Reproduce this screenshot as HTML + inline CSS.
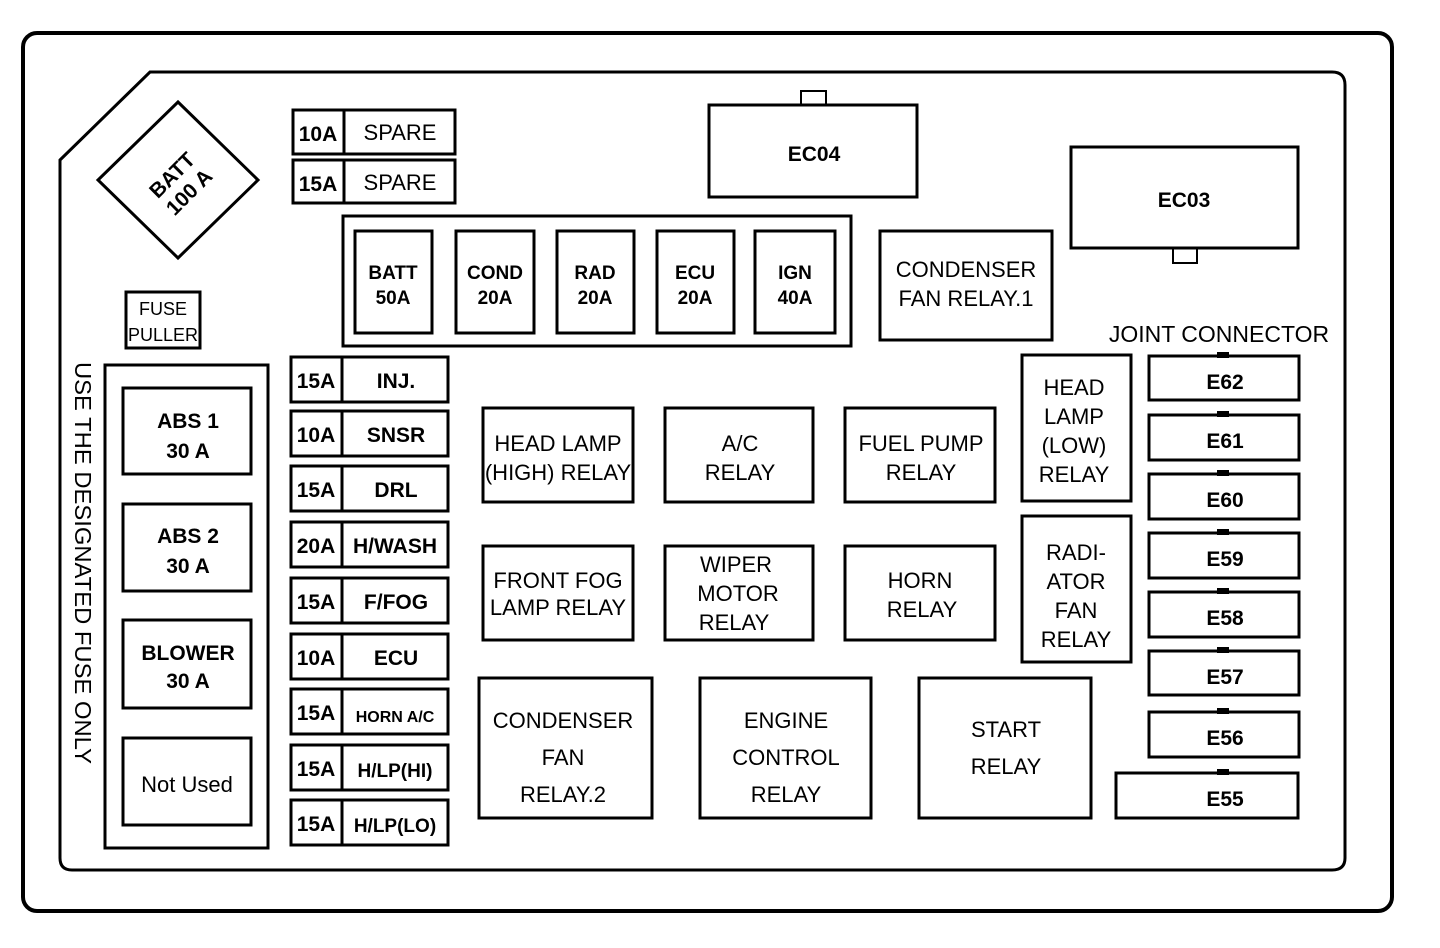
<!DOCTYPE html>
<html><head><meta charset="utf-8"><style>
html,body{margin:0;padding:0;background:#fff;}
svg{display:block;}
text{font-family:"Liberation Sans",sans-serif;fill:#000;}
.b{font-weight:bold;}
</style></head><body>
<svg width="1440" height="948" viewBox="0 0 1440 948" xmlns="http://www.w3.org/2000/svg">
<g fill="none" stroke="#000">
<rect x="23" y="33" width="1369" height="878" rx="14" stroke-width="4"/>
<path d="M60,160 L150,72 L1332,72 Q1345,72 1345,85 L1345,858 Q1345,870 1332,870 L72,870 Q60,870 60,858 Z" stroke-width="3"/>
<polygon points="178,102 258,180 178,258 98,180" stroke-width="3"/>
<rect x="126" y="292" width="74" height="56" stroke-width="3"/>
<rect x="105" y="365" width="163" height="483" stroke-width="3"/>
<rect x="123" y="388" width="128" height="86" stroke-width="3"/>
<rect x="123" y="504" width="128" height="87" stroke-width="3"/>
<rect x="123" y="620" width="128" height="88" stroke-width="3"/>
<rect x="123" y="738" width="128" height="87" stroke-width="3"/>
<rect x="293" y="110" width="162" height="44" stroke-width="3"/><line x1="344" y1="110" x2="344" y2="154" stroke-width="3"/>
<rect x="293" y="160" width="162" height="43" stroke-width="3"/><line x1="344" y1="160" x2="344" y2="203" stroke-width="3"/>
<rect x="343" y="216" width="508" height="130" stroke-width="3"/>
<rect x="355" y="231" width="77" height="102" stroke-width="3"/>
<rect x="456" y="231" width="78" height="102" stroke-width="3"/>
<rect x="557" y="231" width="77" height="102" stroke-width="3"/>
<rect x="657" y="231" width="77" height="102" stroke-width="3"/>
<rect x="755" y="231" width="80" height="102" stroke-width="3"/>
<rect x="709" y="105" width="208" height="92" stroke-width="3"/>
<rect x="801" y="91" width="25" height="14" stroke-width="2"/>
<rect x="1071" y="147" width="227" height="101" stroke-width="3"/>
<rect x="1173" y="248" width="24" height="15" stroke-width="2"/>
<rect x="880" y="231" width="172" height="109" stroke-width="3"/>
<g stroke-width="3">
<rect x="291" y="357" width="157" height="45"/><line x1="342" y1="357" x2="342" y2="402"/>
<rect x="291" y="411" width="157" height="45"/><line x1="342" y1="411" x2="342" y2="456"/>
<rect x="291" y="466" width="157" height="45"/><line x1="342" y1="466" x2="342" y2="511"/>
<rect x="291" y="522" width="157" height="45"/><line x1="342" y1="522" x2="342" y2="567"/>
<rect x="291" y="578" width="157" height="45"/><line x1="342" y1="578" x2="342" y2="623"/>
<rect x="291" y="634" width="157" height="45"/><line x1="342" y1="634" x2="342" y2="679"/>
<rect x="291" y="689" width="157" height="45"/><line x1="342" y1="689" x2="342" y2="734"/>
<rect x="291" y="745" width="157" height="45"/><line x1="342" y1="745" x2="342" y2="790"/>
<rect x="291" y="800" width="157" height="45"/><line x1="342" y1="800" x2="342" y2="845"/>
<rect x="483" y="408" width="150" height="94"/>
<rect x="665" y="408" width="148" height="94"/>
<rect x="845" y="408" width="150" height="94"/>
<rect x="483" y="546" width="150" height="94"/>
<rect x="665" y="546" width="148" height="94"/>
<rect x="845" y="546" width="150" height="94"/>
<rect x="1022" y="355" width="109" height="146"/>
<rect x="1022" y="516" width="109" height="146"/>
<rect x="479" y="678" width="173" height="140"/>
<rect x="700" y="678" width="171" height="140"/>
<rect x="919" y="678" width="172" height="140"/>
<rect x="1149" y="356" width="150" height="44"/>
<rect x="1149" y="415" width="150" height="45"/>
<rect x="1149" y="474" width="150" height="45"/>
<rect x="1149" y="533" width="150" height="45"/>
<rect x="1149" y="592" width="150" height="45"/>
<rect x="1149" y="651" width="150" height="44"/>
<rect x="1149" y="712" width="150" height="45"/>
<rect x="1116" y="773" width="182" height="45"/>
</g>
</g>
<g fill="#000">
<rect x="1217" y="352" width="12" height="6"/><rect x="1217" y="411" width="12" height="6"/><rect x="1217" y="470" width="12" height="6"/><rect x="1217" y="529" width="12" height="6"/><rect x="1217" y="588" width="12" height="6"/><rect x="1217" y="647" width="12" height="6"/><rect x="1217" y="708" width="12" height="6"/><rect x="1217" y="769" width="12" height="6"/>
</g>
<g class="b" font-size="21" text-anchor="middle">
<text transform="translate(180,183) rotate(-45)"><tspan x="0" y="-4">BATT</tspan><tspan x="0" y="20">100 A</tspan></text>
<text x="188" y="428">ABS 1</text><text x="188" y="458">30 A</text>
<text x="188" y="543">ABS 2</text><text x="188" y="573">30 A</text>
<text x="188" y="660">BLOWER</text><text x="188" y="688">30 A</text>
<text x="318" y="141">10A</text><text x="318" y="191">15A</text>
<text x="393" y="279" font-size="19">BATT</text><text x="393" y="304" font-size="19">50A</text>
<text x="495" y="279" font-size="19">COND</text><text x="495" y="304" font-size="19">20A</text>
<text x="595" y="279" font-size="19">RAD</text><text x="595" y="304" font-size="19">20A</text>
<text x="695" y="279" font-size="19">ECU</text><text x="695" y="304" font-size="19">20A</text>
<text x="795" y="279" font-size="19">IGN</text><text x="795" y="304" font-size="19">40A</text>
<text x="814" y="161">EC04</text><text x="1184" y="207">EC03</text>
<text x="316" y="388">15A</text><text x="396" y="388">INJ.</text>
<text x="316" y="442">10A</text><text x="396" y="442">SNSR</text>
<text x="316" y="497">15A</text><text x="396" y="497">DRL</text>
<text x="316" y="553">20A</text><text x="395" y="553">H/WASH</text>
<text x="316" y="609">15A</text><text x="396" y="609">F/FOG</text>
<text x="316" y="665">10A</text><text x="396" y="665">ECU</text>
<text x="316" y="720">15A</text><text x="395" y="722" font-size="16">HORN A/C</text>
<text x="316" y="776">15A</text><text x="395" y="777" font-size="19">H/LP(HI)</text>
<text x="316" y="831">15A</text><text x="395" y="832" font-size="19">H/LP(LO)</text>
<text x="1225" y="389">E62</text><text x="1225" y="448">E61</text><text x="1225" y="507">E60</text><text x="1225" y="566">E59</text><text x="1225" y="625">E58</text><text x="1225" y="684">E57</text><text x="1225" y="745">E56</text><text x="1225" y="806">E55</text>
</g>
<g font-size="22" text-anchor="middle">
<text x="400" y="140">SPARE</text><text x="400" y="190">SPARE</text>
<text x="163" y="315" font-size="18">FUSE</text><text x="163" y="341" font-size="18">PULLER</text>
<text x="187" y="792">Not Used</text>
<text x="966" y="277">CONDENSER</text><text x="966" y="306">FAN RELAY.1</text>
<text x="1219" y="342" font-size="23">JOINT CONNECTOR</text>
<text x="558" y="451">HEAD LAMP</text><text x="558" y="480">(HIGH) RELAY</text>
<text x="740" y="451">A/C</text><text x="740" y="480">RELAY</text>
<text x="921" y="451">FUEL PUMP</text><text x="921" y="480">RELAY</text>
<text x="558" y="588">FRONT FOG</text><text x="558" y="615">LAMP RELAY</text>
<text x="736" y="572">WIPER</text><text x="738" y="601">MOTOR</text><text x="734" y="630">RELAY</text>
<text x="920" y="588">HORN</text><text x="922" y="617">RELAY</text>
<text x="1074" y="395">HEAD</text><text x="1074" y="424">LAMP</text><text x="1074" y="453">(LOW)</text><text x="1074" y="482">RELAY</text>
<text x="1076" y="560">RADI-</text><text x="1076" y="589">ATOR</text><text x="1076" y="618">FAN</text><text x="1076" y="647">RELAY</text>
<text x="563" y="728">CONDENSER</text><text x="563" y="765">FAN</text><text x="563" y="802">RELAY.2</text>
<text x="786" y="728">ENGINE</text><text x="786" y="765">CONTROL</text><text x="786" y="802">RELAY</text>
<text x="1006" y="737">START</text><text x="1006" y="774">RELAY</text>
<text transform="translate(75,563) rotate(90)" font-size="23" textLength="402" lengthAdjust="spacingAndGlyphs">USE THE DESIGNATED FUSE ONLY</text>
</g>
</svg>
</body></html>
